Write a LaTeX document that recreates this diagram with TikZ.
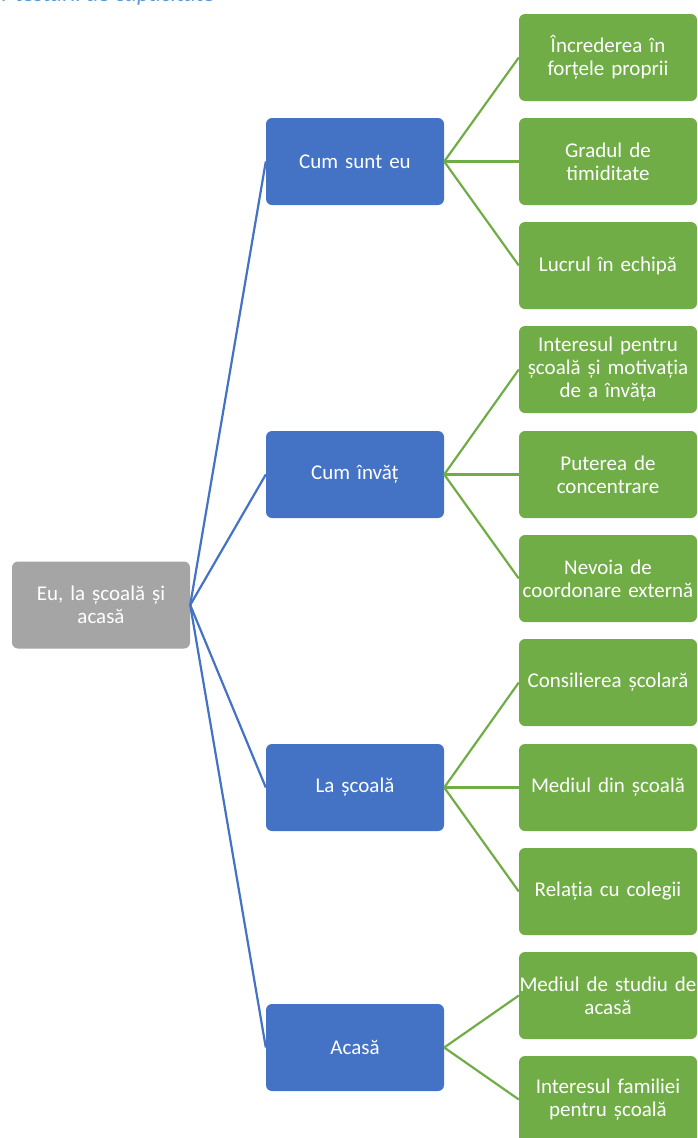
\documentclass[tikz,border=0pt]{standalone}
\usepackage{fontspec}
\setmainfont{Carlito}
\definecolor{rootgray}{HTML}{A5A5A5}
\definecolor{midblue}{HTML}{4472C4}
\definecolor{leafgreen}{HTML}{70AD47}
\definecolor{titleblue}{HTML}{5B9BD5}
\tikzset{
  box/.style={rounded corners=6pt, minimum height=87pt, align=center, text=white,
    font=\fontsize{21}{23}\selectfont, inner sep=0pt},
  rootbox/.style={box, fill=rootgray, minimum width=178pt, text width=172pt},
  midbox/.style={box, fill=midblue, minimum width=178pt, text width=172pt},
  leafbox/.style={box, fill=leafgreen, minimum width=178pt, text width=178pt},
  blueline/.style={draw=midblue, line width=2.2pt},
  greenline/.style={draw=leafgreen, line width=2.2pt},
}
\begin{document}
\begin{tikzpicture}[x=1pt,y=-1pt]
\useasboundingbox (0,0) rectangle (698,1138);
\node[anchor=base east, inner sep=0pt, text=titleblue, font=\fontsize{23.5}{25}\selectfont\itshape] (title) at (215,1.5) {r testării de capacitate};

\node[rootbox] (root) at (101,605) {Eu, la școală și\\acasă};

\node[midbox] (m1) at (355,161.5) {Cum sunt eu};
\node[midbox] (m2) at (355,474.5) {Cum învăț};
\node[midbox] (m3) at (355,787.5) {La școală};
\node[midbox] (m4) at (355,1047.5) {Acasă};

\node[leafbox] (l1) at (608,57.5) {Încrederea în\\forțele proprii};
\node[leafbox] (l2) at (608,161.5) {Gradul de\\timiditate};
\node[leafbox] (l3) at (608,265.5) {Lucrul în echipă};
\node[leafbox] (l4) at (608,369.5) {Interesul pentru\\școală și motivația\\de a învăța};
\node[leafbox] (l5) at (608,474.5) {Puterea de\\concentrare};
\node[leafbox] (l6) at (608,578.5) {Nevoia de\\coordonare externă};
\node[leafbox] (l7) at (608,682.5) {Consilierea școlară};
\node[leafbox] (l8) at (608,787.5) {Mediul din școală};
\node[leafbox] (l9) at (608,891.5) {Relația cu colegii};
\node[leafbox] (l10) at (608,995.5) {Mediul de studiu de\\acasă};
\node[leafbox] (l11) at (608,1099.5) {Interesul familiei\\pentru școală};

\foreach \m in {m1,m2,m3,m4}
  \draw[blueline] (root.east) -- (\m.west);
\foreach \l in {l1,l2,l3}
  \draw[greenline] (m1.east) -- (\l.west);
\foreach \l in {l4,l5,l6}
  \draw[greenline] (m2.east) -- (\l.west);
\foreach \l in {l7,l8,l9}
  \draw[greenline] (m3.east) -- (\l.west);
\foreach \l in {l10,l11}
  \draw[greenline] (m4.east) -- (\l.west);
\end{tikzpicture}
\end{document}
